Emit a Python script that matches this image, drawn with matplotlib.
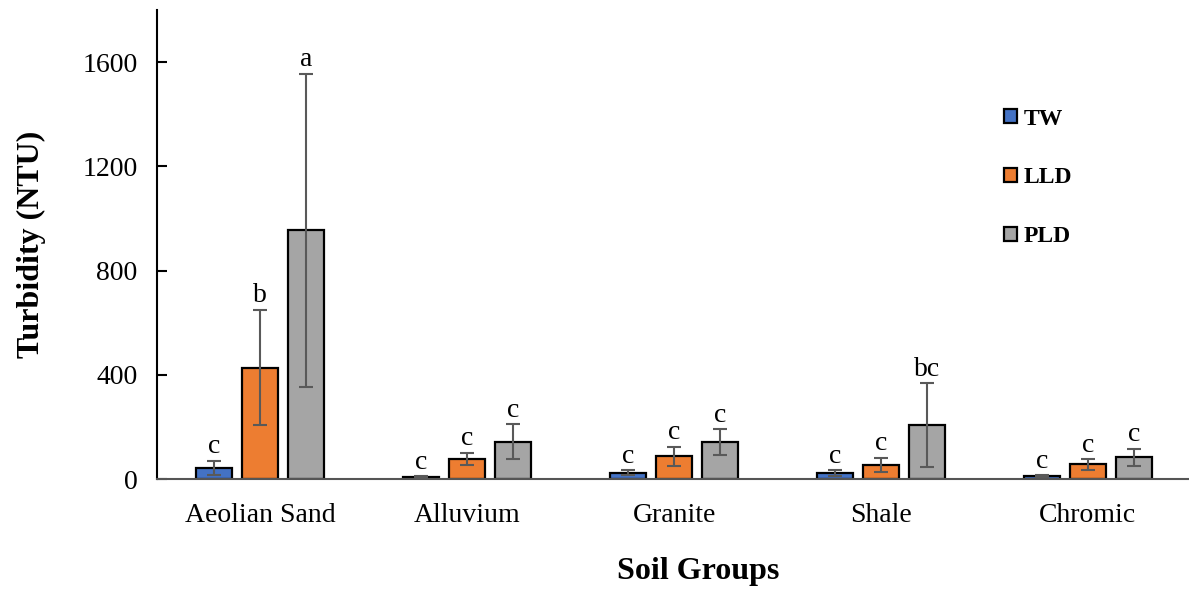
import matplotlib.pyplot as plt
import numpy as np

plt.rcParams['font.family'] = ['Liberation Serif', 'DejaVu Serif']

soil_groups = ['Aeolian Sand', 'Alluvium', 'Granite', 'Shale', 'Chromic']
series = ['TW', 'LLD', 'PLD']

tw_mean = [44, 7, 24, 22, 12]
tw_err = [27, 4, 10, 12, 3]
lld_mean = [428, 78, 87, 54, 56]
lld_err = [222, 23, 37, 28, 20]
pld_mean = [955, 143, 141, 207, 83]
pld_err = [601, 67, 50, 162, 34]

tw_letters = ['c', 'c', 'c', 'c', 'c']
lld_letters = ['b', 'c', 'c', 'c', 'c']
pld_letters = ['a', 'c', 'c', 'bc', 'c']

colors = ['#4472C4', '#ED7D31', '#A5A5A5']

fig = plt.figure(figsize=(11.89, 5.90), dpi=100)
ax = fig.add_axes([0.132, 0.188, 0.870, 0.795])

x = np.arange(len(soil_groups))
width = 0.174
step = 0.222

groups = [(tw_mean, tw_err, tw_letters), (lld_mean, lld_err, lld_letters),
          (pld_mean, pld_err, pld_letters)]
for i, (mean, err, letters) in enumerate(groups):
    pos = x + (i - 1) * step
    ax.bar(pos, mean, width, color=colors[i], edgecolor='black',
           linewidth=1.6, label=series[i], zorder=2)
    ax.errorbar(pos, mean, yerr=err, fmt='none', ecolor='#595959',
                elinewidth=1.5, capsize=5, capthick=1.5, zorder=3)
    for px, m, e, t in zip(pos, mean, err, letters):
        ax.annotate(t, (px, m + e), xytext=(0, 1), textcoords='offset points',
                    ha='center', va='bottom', fontsize=20)

ax.set_xlim(-0.5, 4.5)
ax.set_ylim(0, 1800)
ax.set_yticks([0, 400, 800, 1200, 1600])
ax.set_xticks(x)
ax.set_xticklabels(soil_groups)

for s in ['top', 'right']:
    ax.spines[s].set_visible(False)
ax.spines['left'].set_linewidth(1.5)
ax.spines['bottom'].set_color('#555555')
ax.spines['bottom'].set_linewidth(1.5)

ax.tick_params(axis='y', direction='in', length=7, width=1.5, pad=14, labelsize=20)
ax.tick_params(axis='x', length=0, pad=17, labelsize=20)

ax.set_ylabel('Turbidity (NTU)', fontsize=23, fontweight='bold', va='center')
ax.yaxis.set_label_coords(-0.121, 0.50)
ax.set_xlabel('Soil Groups', fontsize=23, fontweight='bold', va='center')
ax.xaxis.set_label_coords(0.523, -0.198)

leg = ax.legend(loc='upper left', bbox_to_anchor=(0.807, 0.815), frameon=False,
                prop={'weight': 'bold', 'size': 17}, handlelength=0.55,
                handleheight=0.55, handletextpad=0.3, labelspacing=1.6,
                borderpad=0)

fig.savefig('out.png', dpi=100)
